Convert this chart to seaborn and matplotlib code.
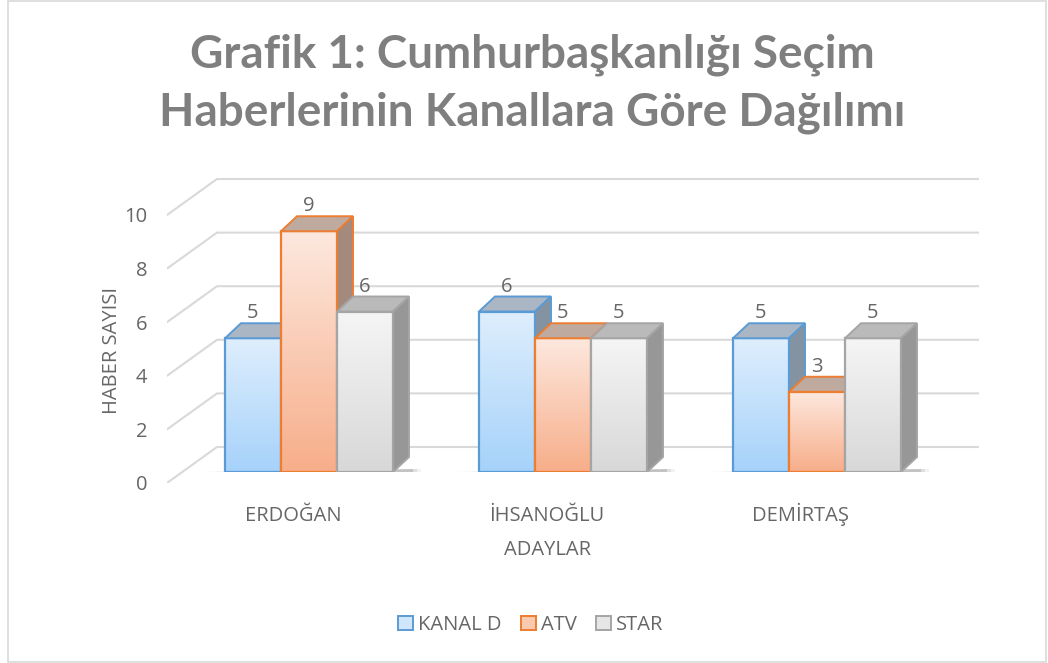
import numpy as np
import pandas as pd
import matplotlib
matplotlib.use("Agg")
import matplotlib.pyplot as plt
import seaborn as sns
from matplotlib.patches import Polygon, Rectangle, Patch

# ---------------- data ----------------
candidates = ["ERDOĞAN", "İHSANOĞLU", "DEMİRTAŞ"]
channels = ["KANAL D", "ATV", "STAR"]
kanal_d = [5, 6, 5]
atv = [9, 5, 3]
star = [6, 5, 5]
yticks = [0, 2, 4, 6, 8, 10]
title_lines = ["Grafik 1: Cumhurbaşkanlığı Seçim", "Haberlerinin Kanallara Göre Dağılımı"]

rows = []
for i, c in enumerate(candidates):
    for ch, vals in zip(channels, [kanal_d, atv, star]):
        rows.append((c, ch, vals[i]))
df = pd.DataFrame(rows, columns=["ADAYLAR", "KANAL", "HABER"])

# ---------------- style ----------------
sns.set_theme(style="white")
plt.rcParams["font.family"] = ["Open Sans", "DejaVu Sans"]
TXT = "#666666"
FS = 14.5

edge_c = {"KANAL D": "#5b9bd5", "ATV": "#ed7d31", "STAR": "#a5a5a5"}
grad_top = {"KANAL D": (222, 238, 253), "ATV": (253, 232, 222), "STAR": (245, 245, 245)}
grad_bot = {"KANAL D": (166, 210, 250), "ATV": (247, 174, 138), "STAR": (216, 216, 216)}
top_c = {"KANAL D": "#aab6c3", "ATV": "#bfaaa0", "STAR": "#bababa"}
side_c = {"KANAL D": "#8493a1", "ATV": "#a38a7c", "STAR": "#979797"}
legend_fill = {"KANAL D": "#cfe6fb", "ATV": "#fbc9ae", "STAR": "#e6e6e6"}

W, H = 1048, 663
fig = plt.figure(figsize=(W / 100, H / 100), dpi=100)
fig.patch.set_facecolor("white")


def fx(px):
    return px / W


def fy(py):
    return 1 - py / H


# ---------------- gridline / value-axis panel (front plane) ----------------
G_X0, G_X1 = 167, 979
G_Y0, G_PPU = 483, 26.8
G_TOP = 11.5
BACK_DX, BACK_DY = 50, 36  # px offset of back wall
axg = fig.add_axes([fx(G_X0), fy(G_Y0), (G_X1 - G_X0) / W, G_TOP * G_PPU / H])
axg.set_xlim(0, 1)
axg.set_ylim(0, G_TOP)
xb = BACK_DX / (G_X1 - G_X0)
vb = BACK_DY / G_PPU
for v in yticks:
    axg.plot([0, xb, 1], [v, v + vb, v + vb], color="#d9d9d9", lw=1.5,
             solid_joinstyle="miter", zorder=1)
axg.set_yticks(yticks)
axg.set_yticklabels([str(v) for v in yticks])
axg.set_xticks([])
axg.tick_params(axis="y", length=0, pad=14, labelsize=FS, labelcolor=TXT)
for s in axg.spines.values():
    s.set_visible(False)
axg.patch.set_alpha(0)

# ---------------- bar panel ----------------
B_Y0, B_PPU = 472, 26.75
CX0, SP = 309, 254
GROUP_W = 168
ax = fig.add_axes([fx(CX0 - SP / 2), fy(B_Y0), 3 * SP / W, 10 * B_PPU / H])
sns.barplot(data=df, x="ADAYLAR", y="HABER", hue="KANAL", order=candidates,
            hue_order=channels, palette=edge_c, width=GROUP_W / SP,
            saturation=1, errorbar=None, legend=False, ax=ax)

DX = 16 / SP
DY = 15 / B_PPU

bars = []
n = len(candidates)
for k, p in enumerate(ax.patches):
    ch = channels[k // n]
    bars.append((p.get_x(), p, ch))
bars.sort(key=lambda t: t[0])

for gi in range(n):
    grp = bars[gi * 3:(gi + 1) * 3]
    gl = grp[0][1].get_x()
    gr = grp[-1][1].get_x() + grp[-1][1].get_width()
    # soft floor shadow
    for j, a in enumerate([0.05, 0.08, 0.12]):
        off = (3 - j) * 4 / SP
        ax.add_patch(Polygon([(gl - off * 2.5, 0), (gr + DX + off, DY * 0.2),
                              (gr + DX + off, -0.03), (gl - off * 2.5, -0.05)],
                             closed=True, facecolor="#000000", alpha=a,
                             edgecolor="none", zorder=2))
z = 3
for x0, p, ch in bars:
    w = p.get_width()
    h = p.get_height()
    ec = edge_c[ch]
    t = np.array(grad_top[ch]) / 255.0
    b = np.array(grad_bot[ch]) / 255.0
    f = np.linspace(0, 1, 64)[:, None]
    img = (t[None, :] * (1 - f) + b[None, :] * f)[:, None, :]
    p.set_facecolor("none")
    p.set_edgecolor(ec)
    p.set_linewidth(1.6)
    p.set_zorder(z + 1)
    im = ax.imshow(img, extent=[x0, x0 + w, 0, h], aspect="auto",
                   origin="upper", zorder=z, interpolation="bilinear")
    im.set_clip_path(p)
    ax.add_patch(Polygon([(x0, h), (x0 + w, h), (x0 + w + DX, h + DY), (x0 + DX, h + DY)],
                         closed=True, facecolor=top_c[ch], edgecolor=ec, lw=1.4,
                         joinstyle="miter", zorder=z + 1))
    ax.add_patch(Polygon([(x0 + w, 0), (x0 + w + DX, DY), (x0 + w + DX, h + DY), (x0 + w, h)],
                         closed=True, facecolor=side_c[ch], edgecolor=ec, lw=1.4,
                         joinstyle="miter", zorder=z + 1))
    ax.annotate(f"{int(h)}", (x0 + w / 2, h), xytext=(0, 18), textcoords="offset points",
                ha="center", va="center", fontsize=FS, color=TXT, zorder=50)
    z += 3

LABEL_SHIFT = 16 / SP
ax.set_xlim(-0.5, n - 0.5)
ax.set_ylim(0, 10)
ax.set_yticks([])
ax.set_ylabel("")
ax.set_xlabel("")
ax.set_xticks([i - LABEL_SHIFT for i in range(n)])
ax.set_xticklabels(candidates)
ax.tick_params(axis="x", length=0, pad=35, labelsize=FS, labelcolor=TXT)
for lab in ax.get_xticklabels():
    lab.set_verticalalignment("baseline")
for s in ax.spines.values():
    s.set_visible(False)
ax.patch.set_alpha(0)

# ---------------- texts ----------------
fig.text(fx(112), fy(350), "HABER SAYISI", rotation=90, ha="center", va="center",
         fontsize=FS, color=TXT)
fig.text(fx(548), fy(555), "ADAYLAR", ha="center", va="baseline", fontsize=FS, color=TXT)
for line, base in zip(title_lines, [67, 126]):
    fig.text(fx(532), fy(base), line, ha="center", va="baseline", fontsize=33,
             fontweight="bold", color="#7f7f7f", family=["Lato", "DejaVu Sans"])

handles = [Patch(facecolor=legend_fill[c], edgecolor=edge_c[c], lw=1.4) for c in channels]
leg = fig.legend(handles, channels, loc="center", bbox_to_anchor=(fx(531), fy(625)),
                 ncol=3, frameon=False, fontsize=FS, handlelength=0.75, handleheight=0.75,
                 handletextpad=0.25, columnspacing=0.95)
for t_ in leg.get_texts():
    t_.set_color(TXT)

fig.add_artist(Rectangle((fx(8), fy(662)), (1046 - 8) / W, (662 - 1) / H,
                         transform=fig.transFigure, facecolor="none",
                         edgecolor="#d9d9d9", lw=1.2))

fig.savefig("out.png", dpi=100)
